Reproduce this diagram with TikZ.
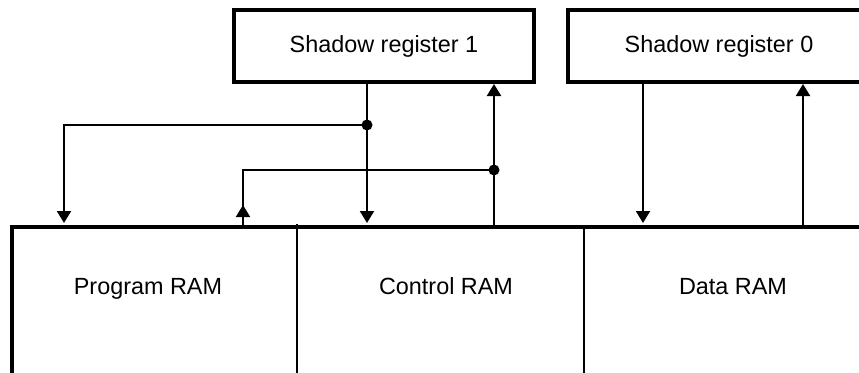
\documentclass[tikz,border=0pt]{standalone}
\usepackage{fontspec}
\setmainfont{Liberation Sans}
\usetikzlibrary{arrows.meta}
\begin{document}
\begin{tikzpicture}[x=1pt,y=-1pt,
  every node/.style={font=\fontsize{23.4}{28}\selectfont},
  regbox/.style={draw, line width=4pt, minimum height=72pt, inner sep=0pt},
  block/.style={minimum height=170pt, inner sep=0pt, outer sep=0pt, anchor=north west},
  label text/.style={anchor=base},
  wire/.style={line width=2pt},
  downarr/.style={wire, -{Triangle[width=14pt,length=12pt]}, shorten >=4pt},
  uparr/.style={wire, -{Triangle[width=14pt,length=12pt]}},
  junction/.style={circle, fill, inner sep=0pt, minimum size=11pt}
]
\useasboundingbox (0,0) rectangle (859,372);
\clip (0,0) rectangle (859,372);

% shadow registers
\node[regbox, minimum width=300pt] (sr1) at (384,46) {Shadow register 1};
\node[regbox, minimum width=303pt] (sr0) at (719,46) {Shadow register 0};

% memory blocks
\node[block, minimum width=285pt] (progblk) at (12,227) {};
\node[block, minimum width=287pt] (ctrlblk) at (297,227) {};
\node[block, minimum width=290pt] (datablk) at (584,227) {};
\node[label text] (progtxt) at (148,294) {Program RAM};
\node[label text] (ctrltxt) at (446,294) {Control RAM};
\node[label text] (datatxt) at (733,294) {Data RAM};

\draw[line width=4pt, line join=miter]
  (progblk.south west) -- (progblk.north west) -- (datablk.north east);
\draw[wire] ([yshift=3pt]progblk.north east) -- (progblk.south east);
\draw[wire] (ctrlblk.north east) -- (ctrlblk.south east);

% branch points
\coordinate (j1) at (367,125);
\coordinate (j2) at (494,170);

% shadow register 1 to program and control RAM
\draw[downarr] ([xshift=-17pt]sr1.south) -- ([xshift=-17pt]sr1.south |- ctrlblk.north);
\draw[downarr] (j1) -| ([xshift=52pt]progblk.north west);

% control RAM and program RAM back to shadow register 1
\draw[uparr] ([xshift=197pt]ctrlblk.north west) -- ([xshift=110pt]sr1.south);
\draw[wire] ([xshift=231pt]progblk.north west) |- (j2);
\draw[uparr] ([xshift=231pt,yshift=8pt]progblk.north west) -- ++(0,-14);

\node[junction] (d1) at (j1) {};
\node[junction] (d2) at (j2) {};

% shadow register 0 and data RAM
\draw[downarr] ([xshift=-76pt]sr0.south) -- ([xshift=-76pt]sr0.south |- datablk.north);
\draw[uparr] ([xshift=219pt]datablk.north west) -- ([xshift=84pt]sr0.south);
\end{tikzpicture}
\end{document}
